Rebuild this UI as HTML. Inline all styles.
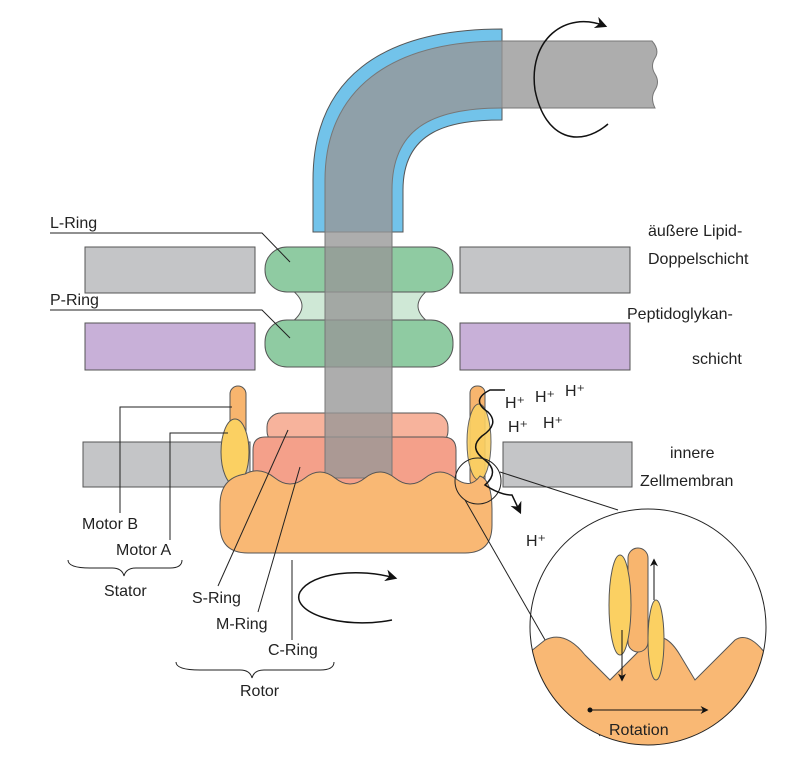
<!DOCTYPE html>
<html><head><meta charset="utf-8"><style>
body{margin:0;background:#fff}
svg{display:block}
text{font-family:"Liberation Sans",sans-serif;font-size:16px;fill:#222}
</style></head><body>
<svg width="795" height="768" viewBox="0 0 795 768">
<defs><marker id="ah" viewBox="0 0 10 10" refX="8" refY="5" markerWidth="8" markerHeight="8" orient="auto"><path d="M0,0 L10,5 L0,10 L3,5 Z" fill="#111"/></marker></defs>
<g stroke="#555" stroke-width="1">
<rect x="85" y="247" width="170" height="46" fill="#c4c5c7"/>
<rect x="460" y="247" width="170" height="46" fill="#c4c5c7"/>
<rect x="85" y="323" width="170" height="47" fill="#c8b0d8"/>
<rect x="460" y="323" width="170" height="47" fill="#c8b0d8"/>
<rect x="83" y="442" width="167" height="45" fill="#c4c5c7"/>
<rect x="503" y="442" width="129" height="45" fill="#c4c5c7"/>
<path d="M292,290 Q312,306 292,322 L428,322 Q408,306 428,290 Z" fill="#cfe8d6"/>
<rect x="265" y="247" width="188" height="45" rx="22" fill="#8fcba2"/>
<rect x="265" y="320" width="188" height="47" rx="22" fill="#8fcba2"/>
<path d="M313,232 L313,180 C313,80 380,29 502,29 L502,120 C450,120 403,130 403,190 L403,232 Z" fill="#72c3ea"/>
<rect x="230" y="386" width="16" height="100" rx="8" fill="#f8b56e"/>
<ellipse cx="235" cy="452" rx="14" ry="33" fill="#fbd062"/>
<rect x="470" y="386" width="15" height="101" rx="7" fill="#f8b56e"/>
<ellipse cx="479" cy="442" rx="12" ry="38" fill="#fbd062" opacity="0.9"/>
<rect x="267" y="413" width="181" height="32" rx="14" fill="#f7b39c"/>
<path d="M265,437 L443,437 Q456,437 456,450 L456,490 L253,490 L253,450 Q253,437 265,437 Z" fill="#f4a08a"/>
<path d="M325,478 L325,180 C325,90 390,41 502,41 L652,41 Q660,50 655,58 Q650,66 655,74 Q660,82 655,90 Q650,98 655,108 L502,108 C430,108 392,130 392,190 L392,478 Z" fill="#979797" fill-opacity="0.79" stroke="#777"/>
<path d="M245,474 Q260,466 275,478 Q290,490 305,478 Q320,466 335,478 Q350,490 365,478 Q380,466 395,478 Q410,490 425,478 Q440,466 455,478 Q470,490 480,476 Q492,480 492,510 L492,525 Q492,553 465,553 L248,553 Q220,553 220,525 L220,505 Q220,478 245,474 Z" fill="#f9b874"/>
</g>
<g fill="none" stroke="#111" stroke-width="1.5">
<path d="M608,124 C580,148 545,140 535,90 C528,40 565,10 605,26" marker-end="url(#ah)"/>
<path d="M392,620 C340,630 290,612 300,592 C312,572 360,568 395,578" marker-end="url(#ah)"/>
<path d="M505,390 L490,390 Q470,400 488,412 Q500,424 482,436 Q468,448 485,460 Q500,472 485,485 Q500,495 512,495 L520,512" marker-end="url(#ah)"/>
</g>
<g fill="none" stroke="#222" stroke-width="1">
<circle cx="478" cy="481" r="23"/>
<line x1="500" y1="472" x2="618" y2="510"/><line x1="465" y1="500" x2="600" y2="736"/>
<polyline points="50,233 262,233 290,262"/>
<polyline points="50,310 262,310 290,338"/>
<polyline points="120,513 120,407 232,407"/>
<polyline points="170,540 170,433 228,433"/>
<line x1="218" y1="586" x2="288" y2="430"/>
<line x1="258" y1="612" x2="300" y2="467"/>
<line x1="292" y1="640" x2="292" y2="560"/>
<path d="M68,560 Q68,568 90,568 L112,568 Q122,568 124,576 Q126,568 136,568 L170,568 Q182,568 182,560"/>
<path d="M176,662 Q176,670 200,670 L240,670 Q250,670 252,678 Q254,670 264,670 L320,670 Q334,670 334,662"/>
</g>
<g>
<clipPath id="cc"><circle cx="648" cy="627" r="118"/></clipPath>
<g clip-path="url(#cc)" stroke="#555">
<path d="M520,660 L545,640 Q565,630 585,655 L610,680 L650,640 Q665,630 680,655 L695,680 L735,640 Q750,630 770,660 L770,760 L520,760 Z" fill="#f9b874"/>
<rect x="628" y="548" width="20" height="104" rx="10" fill="#f8b56e"/>
<ellipse cx="620" cy="605" rx="11" ry="50" fill="#fbd062"/>
<ellipse cx="656" cy="640" rx="8" ry="40" fill="#fbd062"/>
</g>
<circle cx="648" cy="627" r="118" fill="none" stroke="#222"/>
<g stroke="#111" stroke-width="1" fill="none">
<line x1="622" y1="630" x2="622" y2="680" marker-end="url(#ah)"/>
<line x1="654" y1="600" x2="654" y2="560" marker-end="url(#ah)"/>
<line x1="590" y1="710" x2="707" y2="710" marker-end="url(#ah)"/>
</g>
<circle cx="590" cy="710" r="2.5" fill="#111"/>
<text x="609" y="735">Rotation</text>
</g>
<g>
<text x="50" y="228">L-Ring</text>
<text x="50" y="305">P-Ring</text>
<text x="82" y="529">Motor B</text>
<text x="116" y="555">Motor A</text>
<text x="104" y="596">Stator</text>
<text x="192" y="603">S-Ring</text>
<text x="216" y="629">M-Ring</text>
<text x="268" y="655">C-Ring</text>
<text x="240" y="696">Rotor</text>
<text x="648" y="236">äußere Lipid-</text>
<text x="648" y="264">Doppelschicht</text>
<text x="627" y="319">Peptidoglykan-</text>
<text x="692" y="364">schicht</text>
<text x="670" y="458">innere</text>
<text x="640" y="486">Zellmembran</text>
<text x="505" y="408">H⁺</text><text x="535" y="402">H⁺</text><text x="565" y="396">H⁺</text>
<text x="508" y="432">H⁺</text><text x="543" y="428">H⁺</text>
<text x="526" y="546">H⁺</text>
</g>
</svg>
</body></html>
